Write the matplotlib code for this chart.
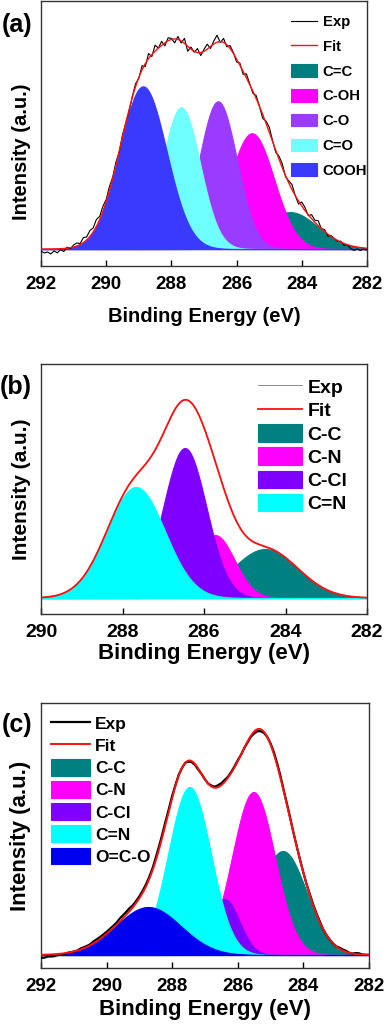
"""C 1s XPS deconvolution, three stacked panels."""

import matplotlib

matplotlib.use("Agg")
import matplotlib.pyplot as plt
import numpy as np

plt.rcParams["font.family"] = ["Liberation Sans", "DejaVu Sans"]
plt.rcParams["font.weight"] = "bold"

# ---- panel (a) ----
a_names = ["C=C", "C-OH", "C-O", "C=O", "COOH"]
a_centers = [284.36, 285.53, 286.57, 287.70, 288.87]
a_heights = [37, 116, 148, 142, 163]
a_sigmas = [0.85, 0.68, 0.58, 0.58, 0.72]
a_colors = ["#007F7F", "#FF00FF", "#9B3BFF", "#70FFFF", "#3A3AFF"]
# Exp minus Fit, 0.1 eV steps from 292 to 282
a_exp_dev = [
    -2, -4, -3, -5, -2, -4, -1, -3, 1, -1, 2,
    3, 1, 5, 3, 6, 4, 7, 3, 5, 2,
    4, 1, 3, -1, 2, 0, -2, 1, 3, -1,
    4, -3, 5, -2, 6, 0, 4, -3, 3, 1,
    -4, 3, -2, 5, -5, 2, -1, 4, -3, 2,
    5, -2, 3, 7, -1, 4, -2, 3, 1, -3,
    2, -3, 4, 1, -2, 3, 0, -4, 2, 5,
    1, -2, 3, 4, -1, 2, 5, 0, -3, 4,
    3, -1, 4, 2, 5, 0, 2, -2, 1, 0,
    -1, 1, -2, 0, -3, -4, -2, -3, -1, -2,
]

# ---- panel (b) ----
b_names = ["C-C", "C-N", "C-Cl", "C=N"]
b_centers = [284.50, 285.73, 286.47, 287.67]
b_heights = [49, 63, 150, 111]
b_sigmas = [0.80, 0.48, 0.53, 0.71]
b_colors = ["#008080", "#FF00FF", "#8000FF", "#00FFFF"]

# ---- panel (c) ----
c_names = ["C-C", "C-N", "C-Cl", "C=N", "O=C-O"]
c_centers = [284.63, 285.52, 286.40, 287.47, 288.73]
c_heights = [104, 163, 56, 168, 48]
c_sigmas = [0.73, 0.65, 0.45, 0.65, 0.99]
c_colors = ["#008080", "#FF00FF", "#8000FF", "#00FFFF", "#0000F0"]
c_exp_dev = [
    -3, -3, -2, -2, -2, -1, -1, -1, 0, 0, 0,
    0, 1, 1, 1, 1, 2, 2, 2, 2, 2,
    2, 2, 2, 3, 3, 3, 3, 2, 2, 2,
    2, 2, 2, 2, 3, 3, 3, 3, 2, 2,
    1, 1, 0, 0, -1, -1, -1, -1, 0, 0,
    0, 1, 1, 2, 2, 2, 1, 1, 1, 1,
    0, 0, -1, -1, -2, -2, -2, -1, 0, 1,
    2, 2, 2, 1, 1, 1, 0, 0, 0, 0,
    0, 1, 1, 1, 1, 0, 0, 0, 0, 0,
    1, 1, 1, 0, 0, 1, 1, 0, 0, 0,
]


def gauss(e, c, h, s):
    return h * np.exp(-((e - c) ** 2) / (2 * s * s))


def model(e, centers, heights, sigmas):
    return [gauss(e, c, h, s) for c, h, s in zip(centers, heights, sigmas)]


W, H = 386, 1024
fig = plt.figure(figsize=(W / 100, H / 100), dpi=100)


def px_axes(left, top, right, bottom):
    return fig.add_axes([left / W, 1 - bottom / H, (right - left) / W, (bottom - top) / H])


panels = [
    dict(box=(41, 0.5, 367, 266), xlim=(292, 282), ylim=(-17, 249), names=a_names,
         centers=a_centers, heights=a_heights, sigmas=a_sigmas, colors=a_colors,
         dev=a_exp_dev, exp_color="black", exp_lw=0.8, fit_lw=1.0, tag="(a)", tag_y=25,
         tick_fs=13.5, xl_fs=14.5, yl_fs=14.5, yl_pos=0.43, labelpad=10, leg_fs=10.7,
         leg=dict(loc="upper right", bbox_to_anchor=(1.0, 0.945), labelspacing=0.7,
                  handlelength=1.8, handleheight=0.9, handletextpad=0.35)),
    dict(box=(41, 364, 367, 614), xlim=(290, 282), ylim=(-16, 234), names=b_names,
         centers=b_centers, heights=b_heights, sigmas=b_sigmas, colors=b_colors,
         dev=None, exp_color="#8C8C8C", exp_lw=0.7, fit_lw=1.3, tag="(b)", tag_y=387,
         tick_fs=14, xl_fs=16, yl_fs=15, yl_pos=0.5, labelpad=2, leg_fs=14,
         leg=dict(loc="upper right", bbox_to_anchor=(0.94, 0.945), labelspacing=0.2,
                  handlelength=2.27, handleheight=1.0, handletextpad=0.3)),
    dict(box=(41, 703, 369, 968), xlim=(292, 282), ylim=(-13, 252), names=c_names,
         centers=c_centers, heights=c_heights, sigmas=c_sigmas, colors=c_colors,
         dev=c_exp_dev, exp_color="black", exp_lw=1.6, fit_lw=1.4, tag="(c)", tag_y=725,
         tick_fs=13.5, xl_fs=16, yl_fs=16, yl_pos=0.5, labelpad=3, leg_fs=12.5,
         leg=dict(loc="upper left", bbox_to_anchor=(0.03, 0.955), labelspacing=0.28,
                  handlelength=2.25, handleheight=1.1, handletextpad=0.3)),
]

for p in panels:
    ax = px_axes(*p["box"])
    e = np.linspace(p["xlim"][0], p["xlim"][1], 1001)
    comps = model(e, p["centers"], p["heights"], p["sigmas"])
    fit = np.sum(comps, axis=0)

    # experimental trace
    if p["dev"] is not None:
        e_exp = np.linspace(292, 282, len(p["dev"]))
        fit_exp = np.sum(model(e_exp, p["centers"], p["heights"], p["sigmas"]), axis=0)
        ax.plot(e_exp, fit_exp + np.array(p["dev"]), color=p["exp_color"],
                lw=p["exp_lw"], label="Exp", zorder=5)
    else:
        ax.plot(e, fit, color=p["exp_color"], lw=p["exp_lw"], label="Exp", zorder=5)
    ax.plot(e, fit, color="#FF1010", lw=p["fit_lw"], label="Fit", zorder=6)

    # components, later ones on top
    for comp, name, col in zip(comps, p["names"], p["colors"]):
        ax.fill_between(e, 0, comp, facecolor=col, edgecolor=col, lw=0.8, label=name)

    ax.set_xlim(*p["xlim"])
    ax.set_ylim(*p["ylim"])
    ax.set_xticks(np.arange(p["xlim"][1], p["xlim"][0] + 1, 2))
    ax.set_yticks([])
    ax.tick_params(axis="x", direction="in", length=4, width=1, pad=7,
                   labelsize=p["tick_fs"], colors="black")
    for lbl in ax.get_xticklabels():
        lbl.set_fontweight("bold")
    for sp in ax.spines.values():
        sp.set_color("#333333")
        sp.set_linewidth(1.0)
    ax.set_xlabel("Binding Energy (eV)", fontsize=p["xl_fs"], fontweight="bold",
                  labelpad=p["labelpad"])
    ax.set_ylabel("Intensity (a.u.)", fontsize=p["yl_fs"], fontweight="bold")
    ax.yaxis.set_label_coords(-10 / (p["box"][2] - p["box"][0]), p["yl_pos"])

    ax.legend(frameon=False, borderaxespad=0, borderpad=0,
              prop=dict(weight="bold", size=p["leg_fs"]), **p["leg"])
    fig.text(32 / W, 1 - p["tag_y"] / H, p["tag"], fontsize=18, fontweight="bold",
             ha="right", va="center")

fig.savefig("out.png", dpi=100)
